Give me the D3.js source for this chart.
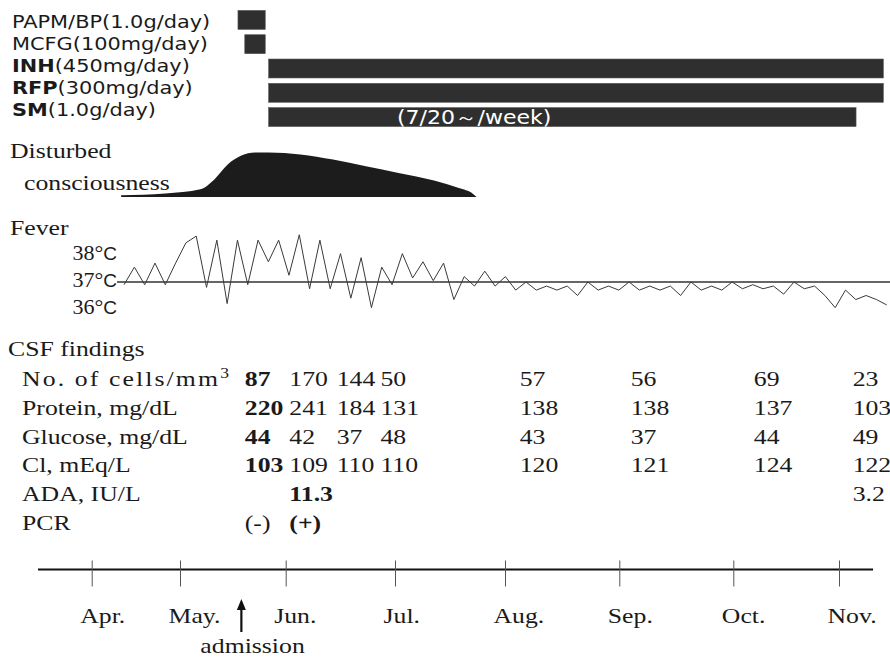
<!DOCTYPE html>
<html>
<head>
<meta charset="utf-8">
<script src="https://cdn.jsdelivr.net/npm/d3@7"></script>
<style>
  body { margin: 0; background: #fff; }
  .serif { font-family: "Liberation Serif", "Times New Roman", serif; font-size: 22px; fill: #1a1a1a; }
  .sans { font-family: "DejaVu Sans", sans-serif; font-size: 18px; fill: #1a1a1a; }
</style>
</head>
<body>
<div id="chart"></div>
<script>
// ---- data ----
const monthDates = ["2009-04-01", "2009-05-01", "2009-06-01", "2009-07-01", "2009-08-01", "2009-09-01", "2009-10-01", "2009-11-01"];
const monthLabels = ["Apr.", "May.", "Jun.", "Jul.", "Aug.", "Sep.", "Oct.", "Nov."];
const admissionDate = "2009-05-19";

const drugNames = ["PAPM/BP", "MCFG", "INH", "RFP", "SM"];
const drugDoses = ["(1.0g/day)", "(100mg/day)", "(450mg/day)", "(300mg/day)", "(1.0g/day)"];
const drugBold = [false, false, true, true, true];
const drugStart = ["2009-05-18", "2009-05-20", "2009-05-27", "2009-05-27", "2009-05-27"];
const drugEnd = ["2009-05-26", "2009-05-26", "2009-11-14", "2009-11-14", "2009-11-06"];
const smNote = "(7/20～/week)";
const smNoteDate = "2009-07-01";

// disturbed consciousness (relative severity 0..1)
const dcDates = ["2009-04-11", "2009-04-26", "2009-05-07", "2009-05-11", "2009-05-15", "2009-05-19", "2009-05-23",
  "2009-05-27", "2009-06-05", "2009-06-14", "2009-06-23", "2009-07-02", "2009-07-12", "2009-07-19", "2009-07-23", "2009-07-24"];
const dcLevel = [0.04, 0.08, 0.175, 0.39, 0.73, 0.93, 1.0, 1.0, 0.955, 0.84, 0.69, 0.54, 0.37, 0.2, 0.07, 0];

// body temperature, evenly sampled from feverFirst to feverLast
const feverFirst = "2009-04-12";
const feverLast = "2009-11-15";
const feverTemps = [
  36.9, 37.55, 36.9, 37.7, 36.9, 37.7, 38.45, 38.7, 36.8, 38.55,
  36.2, 38.55, 36.9, 38.55, 37.75, 38.55, 37.25, 38.75, 36.75, 38.55,
  36.75, 38.05, 36.4, 37.9, 36.05, 37.55, 36.9, 38.05, 37.15, 37.75,
  37.05, 37.7, 36.35, 37.2, 36.85, 37.4, 36.85, 37.2, 36.7, 37.0,
  36.7, 36.85, 36.7, 36.85, 36.5, 37.0, 36.7, 36.85, 36.7, 37.0,
  36.7, 36.85, 36.7, 36.85, 36.5, 37.0, 36.7, 36.85, 36.7, 37.0,
  36.75, 36.9, 36.75, 36.85, 36.55, 37.0, 36.75, 36.85, 36.5, 36.05,
  36.7, 36.35, 36.5, 36.35, 36.15
];
const tempTicks = [38, 37, 36];

// CSF findings
const csfDates = ["2009-05-20", "2009-06-02", "2009-06-15", "2009-06-27", "2009-08-05", "2009-09-04", "2009-10-07", "2009-11-05"];
const csfLabels = ["No. of cells/mm", "Protein, mg/dL", "Glucose, mg/dL", "Cl, mEq/L", "ADA, IU/L", "PCR"];
const cells = [87, 170, 144, 50, 57, 56, 69, 23];
const protein = [220, 241, 184, 131, 138, 138, 137, 103];
const glucose = [44, 42, 37, 48, 43, 37, 44, 49];
const chloride = [103, 109, 110, 110, 120, 121, 124, 122];
const ada = [null, "11.3", null, null, null, null, null, "3.2"];
const pcr = ["(-)", "(+)", null, null, null, null, null, null];
const csfBold = [[0], [0], [0], [0], [1], [1]];

// ---- layout ----
const width = 890, height = 659;
const SX = 1.17; // horizontal stretch of the printed fonts
const tickPos = [91.7, 180, 285.7, 395, 505, 619.3, 733.3, 839];
const axisY = 569.5;

const parse = d3.timeParse("%Y-%m-%d");

const svg = d3.select("#chart")
  .append("svg")
  .attr("width", width)
  .attr("height", height);

const x = d3.scaleTime()
  .domain(monthDates.map(parse))
  .range(tickPos);

const stretched = (sel, tx, ty, sx = SX) =>
  sel.attr("transform", `translate(${tx},${ty}) scale(${sx},1)`);

// ---- drug bars ----
const drugs = drugNames.map((name, i) => ({
  name, dose: drugDoses[i], bold: drugBold[i],
  start: parse(drugStart[i]), end: parse(drugEnd[i])
}));

const yDrug = d3.scaleBand().domain(drugNames).range([8, 129]).paddingInner(0.22).paddingOuter(0.1);
const yDrugLabel = d3.scalePoint().domain(drugNames).range([28, 116]);

svg.append("g")
  .selectAll("rect")
  .data(drugs)
  .join("rect")
  .attr("x", (d) => x(d.start))
  .attr("y", (d) => yDrug(d.name))
  .attr("width", (d) => x(d.end) - x(d.start))
  .attr("height", yDrug.bandwidth())
  .attr("fill", "#2f2f2f")
  .attr("stroke", "#555")
  .attr("stroke-width", 0.6);

svg.append("g")
  .selectAll("text")
  .data(drugs)
  .join("text")
  .attr("class", "sans")
  .each(function (d) {
    const t = d3.select(this);
    stretched(t, 12, yDrugLabel(d.name), 1.16);
    t.append("tspan").attr("font-weight", d.bold ? "bold" : "normal").text(d.name);
    t.append("tspan").text(d.dose);
  });

stretched(svg.append("text"), x(parse(smNoteDate)) + 2, yDrug("SM") + yDrug.bandwidth() / 2 + 7, 1.16)
  .attr("class", "sans")
  .style("fill", "#fff")
  .style("font-size", "19px")
  .text(smNote);

// ---- disturbed consciousness ----
stretched(svg.append("text"), 10, 158).attr("class", "serif").text("Disturbed");
stretched(svg.append("text"), 24, 190).attr("class", "serif").text("consciousness");

const yDC = d3.scaleLinear().domain([0, 1]).range([197, 152.5]);
const dc = dcDates.map((d, i) => ({ date: parse(d), v: dcLevel[i] }));

svg.append("path")
  .datum(dc)
  .attr("fill", "#1c1c1c")
  .attr("d", d3.area()
    .x((d) => x(d.date))
    .y0(yDC(0))
    .y1((d) => yDC(d.v))
    .curve(d3.curveMonotoneX));

// ---- fever ----
stretched(svg.append("text"), 10, 235).attr("class", "serif").text("Fever");

const yT = d3.scaleLinear().domain([36, 38]).range([309, 255]);
const feverIdx = d3.scaleLinear()
  .domain([0, feverTemps.length - 1])
  .range([x(parse(feverFirst)), x(parse(feverLast))]);

svg.append("line")
  .attr("x1", 117)
  .attr("x2", width)
  .attr("y1", yT(37))
  .attr("y2", yT(37))
  .attr("stroke", "#333")
  .attr("stroke-width", 1.3);

svg.append("path")
  .datum(feverTemps)
  .attr("fill", "none")
  .attr("stroke", "#3a3a3a")
  .attr("stroke-width", 1)
  .attr("d", d3.line()
    .x((d, i) => feverIdx(i))
    .y((d) => yT(d)));

svg.append("g")
  .selectAll("text")
  .data(tempTicks)
  .join("text")
  .attr("class", "serif")
  .attr("text-anchor", "end")
  .each(function (d) {
    const t = d3.select(this);
    stretched(t, 117, yT(d) + 5, 1);
    t.append("tspan").text(d + "°");
    t.append("tspan")
      .style("font-family", "'Liberation Sans', Arial, sans-serif")
      .style("font-size", "19px")
      .text("C");
  });

// ---- CSF findings ----
stretched(svg.append("text"), 8, 356).attr("class", "serif").text("CSF findings");

const yRow = d3.scalePoint().domain(csfLabels).range([386, 530]);
const csfValues = [cells, protein, glucose, chloride, ada, pcr];

svg.append("g")
  .selectAll("text")
  .data(csfLabels)
  .join("text")
  .attr("class", "serif")
  .each(function (d, i) {
    const t = d3.select(this);
    stretched(t, 22, yRow(d));
    if (i === 0) t.style("letter-spacing", "1.8px");
    t.append("tspan").text(d);
    if (i === 0) {
      t.append("tspan").attr("dy", -8).style("font-size", "15px").text("3");
    }
  });

const csfCells = [];
csfValues.forEach((row, r) => {
  row.forEach((v, c) => {
    if (v !== null) csfCells.push({ r, c, v, bold: csfBold[r].includes(c) });
  });
});

svg.append("g")
  .selectAll("text")
  .data(csfCells)
  .join("text")
  .attr("class", "serif")
  .attr("font-weight", (d) => (d.bold ? "bold" : "normal"))
  .attr("transform", (d) => `translate(${x(parse(csfDates[d.c]))},${yRow(csfLabels[d.r])}) scale(${SX},1)`)
  .text((d) => d.v);

// ---- time axis ----
svg.append("line")
  .attr("x1", 38)
  .attr("x2", 873)
  .attr("y1", axisY)
  .attr("y2", axisY)
  .attr("stroke", "#111")
  .attr("stroke-width", 2);

const xAxis = d3.axisBottom(x)
  .tickValues(monthDates.map(parse))
  .tickSizeInner(17)
  .tickSizeOuter(0)
  .tickFormat((d, i) => monthLabels[i]);

const ag = svg.append("g")
  .attr("transform", `translate(0,${axisY})`)
  .call(xAxis);

ag.select(".domain").remove();
ag.selectAll(".tick line").attr("y1", -9).attr("stroke", "#555");
ag.selectAll(".tick text")
  .attr("class", "serif")
  .attr("x", 0)
  .attr("y", 0)
  .attr("dy", null)
  .attr("text-anchor", "start")
  .attr("transform", `translate(-12,53.5) scale(${SX},1)`);

// admission arrow
const ax = x(parse(admissionDate));
svg.append("line")
  .attr("x1", ax).attr("x2", ax)
  .attr("y1", 632).attr("y2", 606)
  .attr("stroke", "#111")
  .attr("stroke-width", 2.2);
svg.append("path")
  .attr("d", d3.line()([[ax - 4.5, 610], [ax, 599], [ax + 4.5, 610]]) + "Z")
  .attr("fill", "#111");
stretched(svg.append("text"), ax - 41, 653).attr("class", "serif").text("admission");
</script>
</body>
</html>
